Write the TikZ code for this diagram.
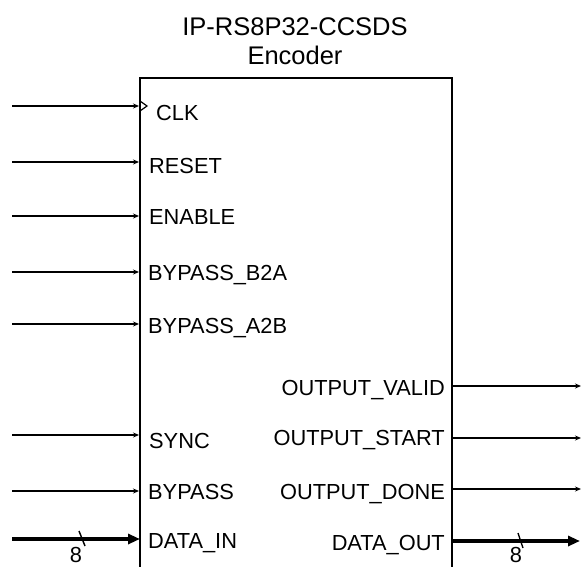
\documentclass[tikz,border=0pt]{standalone}
\usepackage{fontspec}
\setmainfont{Liberation Sans}
\usetikzlibrary{arrows.meta}
\begin{document}
\begin{tikzpicture}[x=1pt,y=-1pt,
  sig/.style={line width=1.4pt,-{Stealth[length=6pt,width=5pt]}},
  bus/.style={line width=3.6pt,-{Triangle[length=12pt,width=10pt]}},
  tick/.style={line width=1.4pt},
  lab/.style={font=\fontsize{21.8}{25}\selectfont,inner sep=0pt},
  ttl/.style={font=\fontsize{25.5}{29}\selectfont,inner sep=0pt,anchor=base}]
\useasboundingbox (0,0) rectangle (581,567);
% block outline, open at the bottom
\draw[line width=2pt] (140,575) coordinate (bl) -- (140,78) -- (452,78) -- (452,575);
\node[ttl] (title) at (295,36) {IP-RS8P32-CCSDS};
\node[ttl] (subtitle) at (295,65) {Encoder};
% input pins
\foreach \nm/\yy in {clk/106, rst/162, en/216, b2a/272, a2b/324, sync/435, byp/491}{
  \coordinate (\nm-s) at (12,\yy);
  \coordinate (\nm-e) at (139,\yy);
}
\node[lab,anchor=base west] (lclk) at (156,121) {CLK};
\node[lab,anchor=base west] (lrst) at (149,173) {RESET};
\node[lab,anchor=base west] (len) at (149,224) {ENABLE};
\node[lab,anchor=base west] (lb2a) at (148,280) {BYPASS\_B2A};
\node[lab,anchor=base west] (la2b) at (148,333) {BYPASS\_A2B};
\node[lab,anchor=base west] (lsync) at (149,448) {SYNC};
\node[lab,anchor=base west] (lbyp) at (148,499) {BYPASS};
\node[lab,anchor=base west] (ldin) at (148,548) {DATA\_IN};
\foreach \nm in {clk,rst,en,b2a,a2b,sync,byp}{
  \draw[sig] (\nm-s) -- (\nm-e);
}
% clock marker
\draw[line width=1.2pt] (140,101) -- (147,106) -- (140,111);
% data input bus
\coordinate (din-s) at (12,539);
\coordinate (din-e) at (140,539);
\draw[bus] (din-s) -- (din-e);
\draw[tick] (79,531) -- (85,546);
\node[lab,anchor=base] (w-in) at (76,562) {8};
% output labels
\node[lab,anchor=base east] (lval) at (445,395) {OUTPUT\_VALID};
\node[lab,anchor=base east] (lstart) at (445,445) {OUTPUT\_START};
\node[lab,anchor=base east] (ldone) at (445,499) {OUTPUT\_DONE};
\node[lab,anchor=base east] (ldout) at (445,550) {DATA\_OUT};
% output pins
\foreach \nm/\yy in {val/386, start/438, done/489}{
  \coordinate (\nm-s) at (453,\yy);
  \coordinate (\nm-e) at (581,\yy);
  \draw[sig] (\nm-s) -- (\nm-e);
}
\coordinate (dout-s) at (453,541);
\coordinate (dout-e) at (580,541);
\draw[bus] (dout-s) -- (dout-e);
\draw[tick] (518,533) -- (523,548);
\node[lab,anchor=base] (w-out) at (516,562) {8};
\end{tikzpicture}
\end{document}
